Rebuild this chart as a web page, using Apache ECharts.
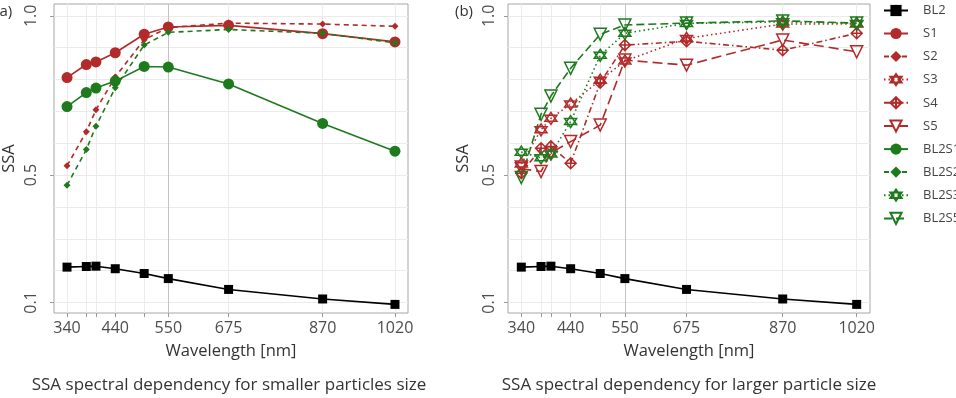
<!DOCTYPE html>
<html>
<head>
<meta charset="utf-8">
<script src="https://cdn.jsdelivr.net/npm/echarts@6/dist/echarts.min.js"></script>
<style>
html,body{margin:0;padding:0;background:#fff;}
#Charts1{width:956px;height:398px;}
</style>
</head>
<body>
<div id="Charts1"></div>
<script>
// wavelengths (nm)
var wl = [340, 380, 400, 440, 500, 550, 675, 870, 1020];
var xLabels = [340, 440, 550, 675, 870, 1020];
var yLabels = [0.1, 0.5, 1.0];
var yGrid = [0.1, 0.2, 0.3, 0.4, 0.5, 0.6, 0.7, 0.8, 0.9, 1.0];

// SSA values
var bl2   = [0.211, 0.213, 0.214, 0.206, 0.191, 0.175, 0.141, 0.111, 0.094];
var s1    = [0.806, 0.847, 0.855, 0.884, 0.942, 0.965, 0.970, 0.944, 0.918];
var s2    = [0.529, 0.636, 0.705, 0.808, 0.925, 0.963, 0.977, 0.974, 0.967];
var bl2s1 = [0.715, 0.759, 0.773, 0.795, 0.841, 0.839, 0.786, 0.662, 0.575];
var bl2s2 = [0.468, 0.580, 0.653, 0.774, 0.908, 0.948, 0.957, 0.945, 0.915];
var s3    = [0.535, 0.642, 0.678, 0.723, 0.798, 0.858, 0.929, 0.974, 0.974];
var s4    = [0.506, 0.584, 0.590, 0.537, 0.790, 0.908, 0.920, 0.892, 0.945];
var s5    = [0.520, 0.511, 0.570, 0.605, 0.657, 0.861, 0.845, 0.924, 0.887];
var bl2s3 = [0.572, 0.554, 0.566, 0.668, 0.876, 0.945, 0.976, 0.981, 0.976];
var bl2s5 = [0.492, 0.691, 0.748, 0.835, 0.942, 0.971, 0.977, 0.984, 0.977];

var RED = '#b22a2a', GREEN = '#1d7a1d', BLACK = '#000';
var FONT = 'Open Sans';
var XMIN = 313, XMAX = 1047, YMIN = 0.067, YMAX = 1.037;
var STAR = 'path://M5,0 L9.33,7.5 L0.67,7.5 Z M5,10 L0.67,2.5 L9.33,2.5 Z';
var DIAPLUS = 'path://M5,0 L10,5 L5,10 L0,5 Z M5,0 L5,10 M0,5 L10,5';
var TRIDOWN = 'path://M0,0 L10,0 L5,8.66 Z';

function pair(arr){
	var out = [];
	for (var i = 0; i < wl.length; i++) out.push([wl[i], arr[i]]);
	return out;
}

function mkSeries(name, arr, idx, color, symbol, size, dash, hollow){
	return {
		name: name, type: 'line', xAxisIndex: idx, yAxisIndex: idx,
		data: pair(arr),
		symbol: symbol, symbolSize: size,
		lineStyle: {color: color, width: 1.6, type: dash},
		itemStyle: hollow ? {color: 'rgba(0,0,0,0)', borderColor: color, borderWidth: 1.5} : {color: color},
		emphasis: {disabled: true},
		z: 3
	};
}

// light grid, the 550 nm line a bit darker
function gridLines(){
	var d = [];
	yGrid.forEach(function(v){ d.push({yAxis: v}); });
	wl.forEach(function(v){
		if (v == 550) d.push({xAxis: v, lineStyle: {color: '#c4c4c4'}});
		else d.push({xAxis: v});
	});
	return {silent: true, symbol: 'none', z: 1, label: {show: false},
		lineStyle: {color: '#ebebeb', width: 1, type: 'solid'}, data: d};
}

function xAx(idx){
	return {
		type: 'value', gridIndex: idx, min: XMIN, max: XMAX,
		name: 'Wavelength [nm]', nameLocation: 'middle', nameGap: 30,
		nameTextStyle: {fontSize: 16.5, color: '#333', fontFamily: FONT},
		axisLine: {show: false},
		axisTick: {show: true, length: 4, lineStyle: {color: '#999'}, customValues: wl},
		axisLabel: {customValues: xLabels, fontSize: 16, color: '#4d4d4d', fontFamily: FONT, margin: 7,
			formatter: function(v){ return String(v); }},
		splitLine: {show: false}
	};
}

function yAx(idx){
	return {
		type: 'value', gridIndex: idx, min: YMIN, max: YMAX,
		name: 'SSA', nameLocation: 'middle', nameGap: 36, nameRotate: 90,
		nameTextStyle: {fontSize: 16.5, color: '#333', fontFamily: FONT},
		axisLine: {show: false},
		axisTick: {show: true, length: 4, lineStyle: {color: '#999'}, customValues: yLabels},
		axisLabel: {show: false},   // vertical tick labels are added below
		splitLine: {show: false}
	};
}

var leftBL2 = mkSeries('BL2', bl2, 0, BLACK, 'rect', 9, 'solid', false);
leftBL2.markLine = gridLines();
var rightBL2 = mkSeries('BL2', bl2, 1, BLACK, 'rect', 9, 'solid', false);
rightBL2.markLine = gridLines();

var option = {
	animation: false,
	backgroundColor: '#fff',
	textStyle: {fontFamily: FONT},
	grid: [
		{left: 47, top: 4, width: 361, height: 309, show: true, borderColor: '#a6a6a6', borderWidth: 1, backgroundColor: 'transparent'},
		{left: 508, top: 4, width: 362, height: 309, show: true, borderColor: '#a6a6a6', borderWidth: 1, backgroundColor: 'transparent'}
	],
	xAxis: [xAx(0), xAx(1)],
	yAxis: [yAx(0), yAx(1)],
	legend: {
		orient: 'vertical', left: 878, top: 2, padding: [2, 5, 5, 5],
		itemWidth: 24, itemHeight: 14, itemGap: 10,
		textStyle: {fontSize: 13, color: '#444', fontFamily: FONT, padding: [0, 0, 0, 10]},
		data: ['BL2', 'S1', 'S2', 'S3', 'S4', 'S5', 'BL2S1', 'BL2S2', 'BL2S3', 'BL2S5']
	},
	title: [
		{text: 'SSA spectral dependency for smaller particles size', left: 224, top: 372, textAlign: 'center',
			textStyle: {fontSize: 17, fontWeight: 'normal', color: '#333', fontFamily: FONT}},
		{text: 'SSA spectral dependency for larger particle size', left: 684, top: 372, textAlign: 'center',
			textStyle: {fontSize: 17, fontWeight: 'normal', color: '#333', fontFamily: FONT}}
	],
	series: [
		leftBL2,
		mkSeries('S1', s1, 0, RED, 'circle', 11, 'solid', false),
		mkSeries('S2', s2, 0, RED, 'diamond', 7, [5, 4], false),
		mkSeries('BL2S1', bl2s1, 0, GREEN, 'circle', 11, 'solid', false),
		mkSeries('BL2S2', bl2s2, 0, GREEN, 'diamond', 7, [5, 4], false),
		rightBL2,
		mkSeries('S3', s3, 1, RED, STAR, 12, [1.5, 3], true),
		mkSeries('S4', s4, 1, RED, DIAPLUS, 11, [6, 3, 1.5, 3], true),
		mkSeries('S5', s5, 1, RED, TRIDOWN, 12, [10, 5], true),
		mkSeries('BL2S3', bl2s3, 1, GREEN, STAR, 12, [1.5, 3], true),
		mkSeries('BL2S5', bl2s5, 1, GREEN, TRIDOWN, 12, [8, 4], true)
	]
};

var myChart = echarts.init(document.getElementById('Charts1'));
myChart.setOption(option);

// rotated y tick labels, placed through the axis scale
var gfx = [
	{type: 'text', x: -5, y: 4, style: {text: '(a)', fontSize: 15, fill: '#333', fontFamily: FONT}},
	{type: 'text', x: 455, y: 4, style: {text: '(b)', fontSize: 15, fill: '#333', fontFamily: FONT}}
];
var labelGap = [23, 19];
[0, 1].forEach(function(idx){
	yLabels.forEach(function(v){
		var p = myChart.convertToPixel({xAxisIndex: idx, yAxisIndex: idx}, [XMIN, v]);
		gfx.push({type: 'text', x: p[0] - labelGap[idx], y: p[1], rotation: Math.PI / 2,
			style: {text: v.toFixed(1), fontSize: 16, fill: '#4d4d4d', fontFamily: FONT,
				align: 'center', verticalAlign: 'middle'}});
	});
});
myChart.setOption({graphic: gfx});
</script>
</body>
</html>
